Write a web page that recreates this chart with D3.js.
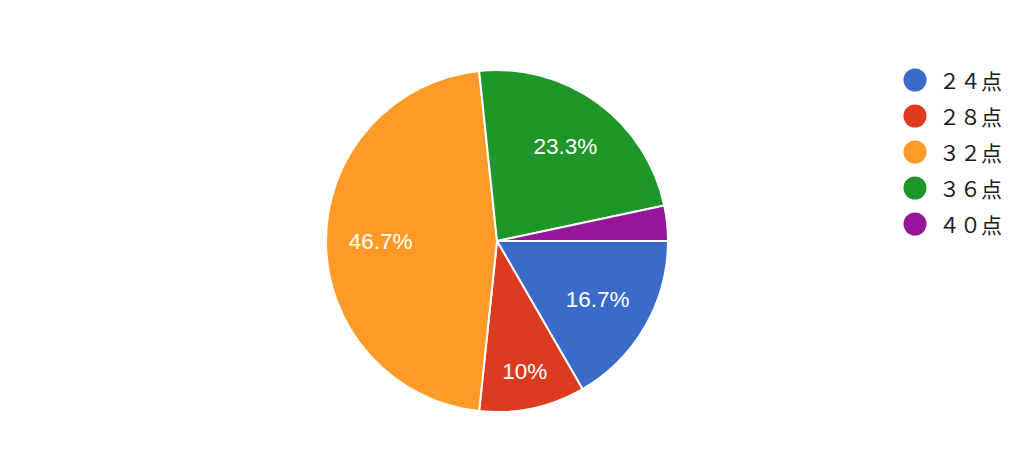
<!DOCTYPE html>
<html><head><meta charset="utf-8">
<script src="https://cdn.jsdelivr.net/npm/d3@7"></script>
<style>html,body{margin:0;padding:0;background:#fff;}</style>
</head><body>
<svg id="chart" width="1024" height="461"></svg>
<script>
const categories = ["２４点", "２８点", "３２点", "３６点", "４０点"];
const counts = [5, 3, 14, 7, 1];
const colors = ["#3a6bcb", "#dc3b1f", "#fd9a28", "#1f962a", "#96169a"];

const svg = d3.select("#chart");
const cx = 497, cy = 241, R = 171;
const total = d3.sum(counts);

const pie = d3.pie().sort(null).value(d => d)
  .startAngle(Math.PI / 2).endAngle(Math.PI / 2 + 2 * Math.PI);
const arcs = pie(counts);
const arc = d3.arc().innerRadius(0).outerRadius(R);

const g = svg.append("g").attr("transform", `translate(${cx},${cy})`);
g.selectAll("path").data(arcs).enter().append("path")
  .attr("d", arc)
  .attr("fill", (d, i) => colors[i])
  .attr("stroke", "#fff").attr("stroke-width", 2)
  .attr("stroke-linejoin", "round");

const fmt = v => { const p = Math.round(v / total * 1000) / 10; return (p % 1 === 0 ? p.toFixed(0) : p.toFixed(1)) + "%"; };

g.selectAll("text.lbl").data(arcs.filter(d => d.value / total >= 0.05)).enter()
  .append("text").attr("class", "lbl")
  .each(function(d) {
    const frac = d.value / total;
    const r = frac < 0.12 ? R * 0.78 : R * 0.68;
    const a = (d.startAngle + d.endAngle) / 2;
    d3.select(this).attr("x", Math.sin(a) * r).attr("y", -Math.cos(a) * r);
  })
  .attr("text-anchor", "middle").attr("dominant-baseline", "central")
  .attr("fill", "#fff")
  .attr("font-family", "Liberation Sans, Arial, sans-serif")
  .attr("font-size", 22.5)
  .text(d => fmt(d.value));

const legend = svg.append("g");
const ly = d3.scalePoint().domain(categories).range([80, 224]);
const items = legend.selectAll("g").data(categories).enter().append("g")
  .attr("transform", d => `translate(915,${ly(d)})`);
items.append("circle").attr("r", 11.5).attr("fill", (d, i) => colors[i]);
items.append("text").attr("x", 24).attr("dominant-baseline", "central")
  .attr("font-family", "Noto Sans CJK JP, sans-serif").attr("font-size", 21)
  .attr("fill", "#1a1a1a").text(d => d);
</script>
</body></html>
